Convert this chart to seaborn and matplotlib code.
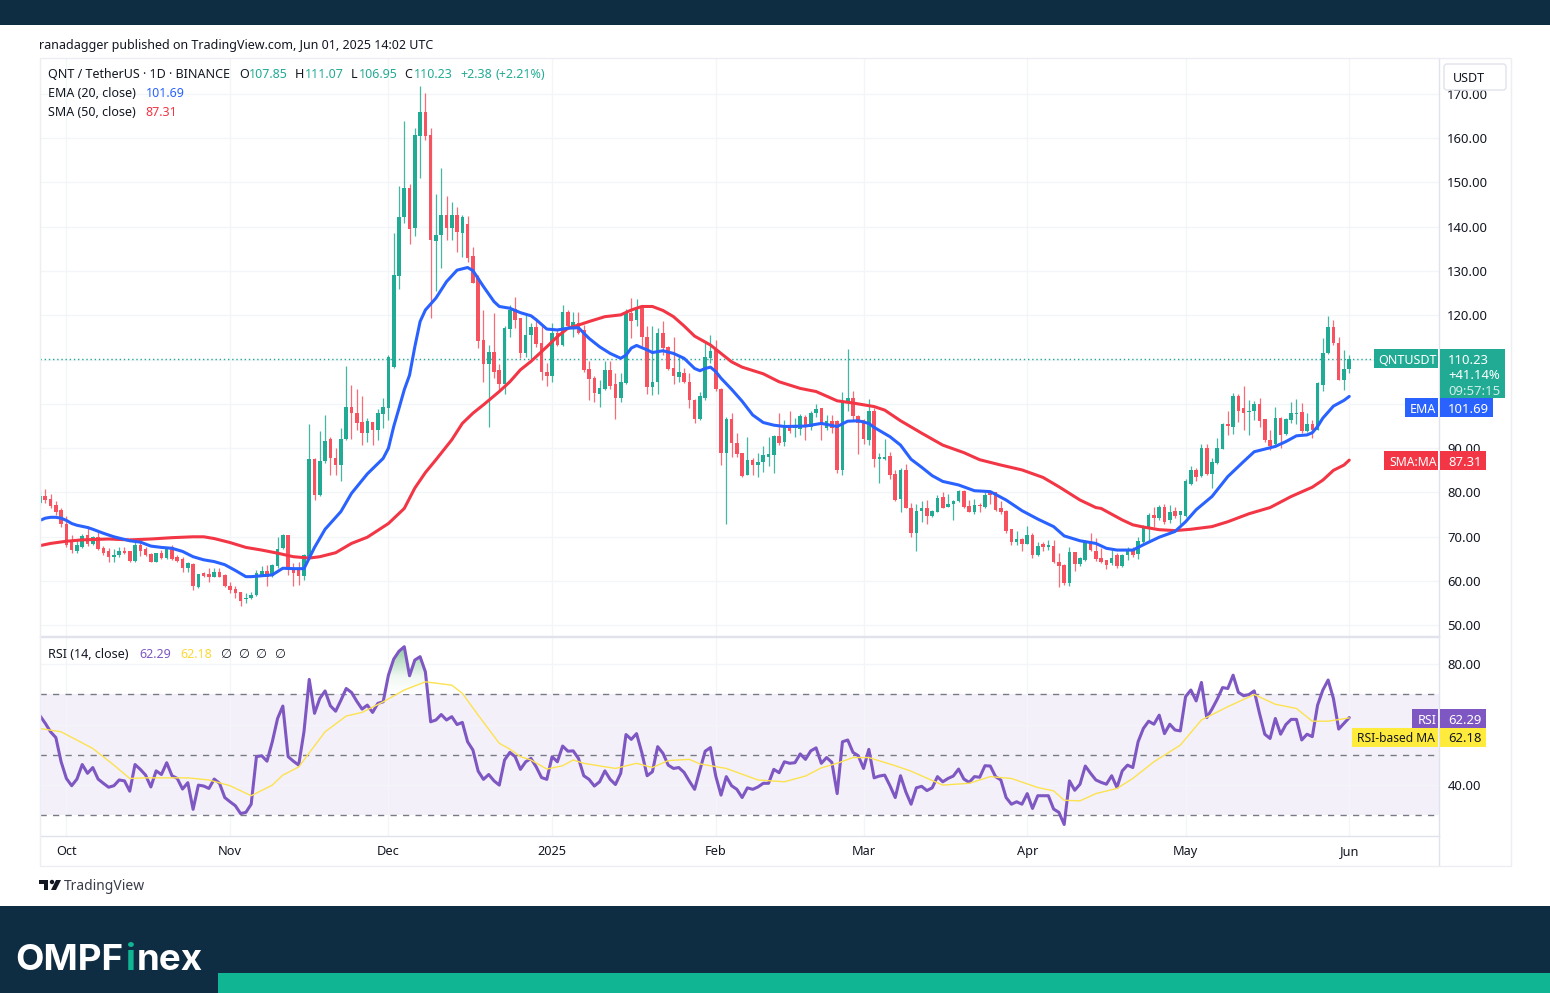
import matplotlib
matplotlib.use("Agg")
import matplotlib.pyplot as plt
from matplotlib.colors import LinearSegmentedColormap
from matplotlib.patches import Circle, FancyBboxPatch, Polygon, Rectangle
from matplotlib.path import Path
import numpy as np
import pandas as pd
import seaborn as sns

# daily candles, first bar is Sep 26 2024
opens = [
    77.7, 79.2, 78.5, 77.2, 76.1, 73.0, 68.9, 66.7, 67.8, 70.4,
    68.4, 69.9, 67.4, 66.7, 65.5, 65.9, 66.7, 66.7, 64.6, 68.2,
    67.2, 66.1, 64.3, 66.4, 65.3, 67.8, 65.4, 65.0, 62.9, 63.9,
    58.6, 61.8, 61.6, 61.0, 62.1, 61.4, 58.9, 58.2, 57.5, 56.0,
    56.1, 56.9, 61.2, 62.2, 61.1, 63.4, 67.4, 70.3, 62.9, 62.5,
    61.2, 65.5, 87.5, 79.5, 87.0, 92.1, 87.7, 86.2, 92.0, 99.2,
    97.9, 95.9, 93.5, 95.9, 94.1, 97.8, 99.0, 108.3, 128.9, 142.1,
    148.8, 139.7, 160.5, 165.8, 160.7, 136.8, 138.1, 142.7, 139.7, 142.7,
    138.7, 140.6, 133.3, 128.4, 114.4, 109.0, 111.8, 107.7, 104.5, 116.9,
    121.4, 119.3, 111.4, 115.5, 117.3, 113.7, 107.3, 106.2, 116.0, 113.3,
    120.8, 117.5, 118.2, 116.7, 107.8, 105.8, 102.3, 103.3, 107.7, 104.5,
    101.4, 104.8, 120.6, 119.0, 121.6, 115.2, 103.8, 105.0, 116.0, 112.9,
    108.0, 106.0, 107.0, 105.0, 100.9, 96.5, 101.3, 110.3, 112.2, 103.3,
    88.9, 96.5, 91.1, 88.9, 84.0, 87.4, 86.2, 86.8, 88.1, 88.4,
    92.8, 91.3, 95.0, 94.5, 94.3, 97.1, 94.7, 98.0, 99.0, 94.5,
    96.2, 96.2, 85.0, 100.5, 101.4, 97.3, 96.4, 91.9, 98.3, 87.5,
    87.6, 88.3, 84.1, 78.5, 85.1, 76.6, 70.8, 75.9, 76.4, 74.6,
    75.7, 78.9, 76.8, 77.4, 78.0, 80.4, 77.0, 75.7, 77.2, 76.7,
    79.9, 80.0, 76.4, 75.9, 71.7, 68.8, 69.5, 68.4, 70.3, 65.9,
    68.4, 67.6, 68.0, 64.4, 63.7, 59.5, 66.5, 63.9, 64.8, 68.9,
    66.9, 65.2, 64.8, 64.0, 65.9, 63.3, 65.8, 67.2, 66.1, 68.9,
    72.3, 74.9, 74.2, 76.7, 73.7, 75.9, 75.0, 74.7, 81.9, 85.1,
    83.7, 90.0, 84.2, 86.6, 89.9, 95.5, 94.9, 101.8, 99.0, 98.1,
    98.3, 99.9, 96.5, 91.9, 90.9, 96.8, 93.2, 96.4, 97.8, 98.1,
    93.8, 95.5, 94.1, 104.3, 111.4, 117.3, 113.8, 105.4, 107.85,
]
highs = [
    80.6, 80.9, 79.7, 78.0, 76.4, 74.7, 70.4, 69.5, 70.7, 72.5,
    70.2, 71.0, 67.9, 67.4, 67.2, 67.8, 67.8, 66.7, 68.8, 69.3,
    67.8, 66.4, 66.4, 67.0, 67.4, 68.1, 65.9, 65.4, 64.4, 64.0,
    61.7, 62.1, 62.9, 62.9, 62.9, 61.7, 59.7, 58.8, 57.6, 57.3,
    57.6, 62.4, 63.4, 63.6, 63.9, 70.0, 70.6, 70.3, 64.0, 64.4,
    66.1, 95.4, 87.7, 93.8, 97.5, 92.5, 90.0, 94.5, 108.6, 104.3,
    103.3, 101.8, 96.8, 96.0, 98.8, 101.3, 111.1, 138.7, 149.3, 163.9,
    149.6, 162.4, 171.8, 170.1, 162.4, 147.3, 153.2, 147.0, 145.7, 144.4,
    142.7, 142.4, 135.5, 129.0, 121.2, 113.3, 120.5, 109.0, 117.5, 122.3,
    124.1, 119.4, 120.0, 118.2, 119.0, 117.6, 109.2, 118.2, 117.0, 122.3,
    121.2, 120.7, 120.8, 117.8, 109.6, 106.2, 105.4, 109.8, 109.6, 106.9,
    106.9, 121.5, 123.9, 123.6, 122.0, 117.5, 117.5, 117.1, 118.8, 113.0,
    115.2, 111.0, 108.0, 106.9, 101.0, 102.8, 114.1, 115.6, 114.4, 103.5,
    97.1, 97.9, 93.4, 89.0, 92.6, 87.7, 88.9, 90.4, 92.6, 93.0,
    97.9, 96.4, 98.3, 96.8, 97.7, 97.5, 98.3, 100.0, 99.0, 97.5,
    97.5, 96.4, 102.8, 112.3, 102.9, 97.4, 96.5, 101.0, 99.0, 89.0,
    92.0, 89.2, 85.1, 85.5, 86.5, 77.6, 77.4, 78.1, 78.2, 76.1,
    79.5, 80.1, 79.7, 78.2, 80.6, 80.6, 78.3, 78.5, 77.6, 80.2,
    80.2, 80.2, 78.0, 76.0, 71.8, 71.2, 69.7, 72.5, 70.8, 68.9,
    68.9, 69.3, 69.3, 66.3, 63.9, 67.6, 66.6, 65.5, 69.3, 70.8,
    69.7, 67.4, 64.8, 67.0, 66.3, 66.1, 67.6, 67.8, 69.9, 72.7,
    75.3, 76.7, 77.2, 77.4, 77.2, 76.8, 75.9, 83.0, 85.9, 85.6,
    91.0, 91.0, 87.7, 92.2, 95.6, 98.4, 102.4, 102.2, 104.1, 100.9,
    100.7, 101.3, 96.6, 94.1, 99.2, 97.0, 96.8, 100.5, 101.1, 100.2,
    98.0, 96.4, 105.0, 114.8, 119.9, 119.0, 115.0, 112.2, 111.07,
]
lows = [
    77.2, 77.6, 76.4, 74.9, 72.3, 67.8, 66.4, 66.4, 67.4, 67.9,
    68.2, 67.0, 65.9, 64.4, 64.4, 65.4, 66.1, 64.2, 64.4, 65.7,
    65.7, 64.2, 64.2, 64.9, 65.0, 64.7, 64.2, 62.0, 62.1, 58.0,
    58.5, 61.0, 59.9, 60.9, 60.9, 58.7, 57.3, 56.1, 54.3, 55.0,
    55.9, 56.7, 61.1, 58.8, 60.9, 62.9, 67.2, 61.4, 58.8, 59.1,
    60.3, 65.3, 78.2, 79.3, 86.7, 84.0, 84.0, 82.7, 91.9, 92.1,
    94.1, 90.7, 91.5, 90.7, 91.9, 94.5, 96.4, 108.0, 125.9, 140.8,
    136.1, 137.8, 150.9, 159.6, 119.3, 125.6, 130.6, 136.9, 137.0, 134.4,
    133.1, 132.1, 127.2, 112.6, 105.0, 94.9, 105.8, 103.2, 102.3, 115.2,
    117.1, 110.3, 110.7, 110.1, 112.9, 105.4, 104.1, 105.0, 113.0, 113.0,
    117.1, 115.2, 115.8, 107.1, 100.9, 100.5, 99.2, 103.2, 103.3, 96.5,
    100.5, 104.5, 114.8, 117.6, 113.0, 102.3, 102.0, 102.3, 111.0, 107.6,
    104.5, 105.0, 104.8, 99.0, 95.6, 96.4, 100.9, 109.2, 103.0, 86.2,
    72.9, 88.0, 88.1, 83.6, 84.0, 84.0, 83.6, 84.7, 85.9, 84.5,
    90.7, 90.5, 93.5, 92.6, 93.0, 91.9, 94.1, 97.0, 91.9, 94.1,
    93.4, 84.4, 84.0, 98.3, 96.4, 88.7, 91.0, 90.7, 85.7, 82.2,
    87.4, 83.0, 78.0, 75.7, 76.4, 70.0, 66.7, 73.4, 72.8, 74.4,
    75.5, 76.4, 76.8, 73.8, 77.8, 76.6, 75.5, 75.2, 75.7, 76.4,
    77.4, 75.8, 75.2, 70.8, 68.2, 68.2, 66.7, 68.4, 65.2, 65.7,
    66.9, 67.0, 64.0, 58.6, 59.1, 58.8, 62.2, 63.3, 64.6, 66.7,
    64.6, 64.0, 62.7, 63.7, 63.0, 63.1, 64.8, 65.5, 64.9, 68.7,
    68.9, 72.3, 73.8, 72.9, 73.1, 74.2, 72.9, 74.5, 81.7, 82.5,
    83.6, 84.0, 81.0, 86.5, 89.8, 93.0, 93.2, 96.0, 94.1, 92.9,
    96.4, 94.9, 91.5, 89.6, 90.7, 90.0, 93.0, 95.6, 95.5, 93.4,
    93.6, 92.3, 94.0, 103.0, 111.3, 113.3, 105.4, 103.2, 106.95,
]
closes = [
    79.1, 78.2, 77.0, 75.7, 72.9, 68.2, 67.0, 68.2, 70.2, 68.4,
    69.9, 67.2, 66.3, 65.5, 65.9, 66.7, 66.3, 64.6, 68.2, 66.9,
    65.9, 64.2, 66.3, 65.3, 67.2, 64.9, 64.6, 62.9, 64.0, 58.8,
    61.6, 61.2, 60.9, 62.1, 61.0, 58.8, 58.0, 57.3, 55.4, 56.2,
    56.9, 61.8, 62.2, 61.0, 63.6, 67.2, 70.3, 62.5, 61.8, 61.2,
    65.9, 87.5, 79.5, 87.2, 91.7, 87.7, 86.2, 92.0, 99.4, 98.0,
    95.8, 93.5, 96.2, 94.0, 97.9, 99.2, 110.5, 129.1, 142.1, 148.8,
    139.5, 160.7, 165.8, 160.5, 137.0, 138.1, 142.7, 139.7, 142.7, 138.8,
    142.3, 132.9, 127.4, 114.3, 109.0, 111.8, 107.1, 104.5, 117.1, 121.2,
    119.0, 111.4, 115.6, 117.3, 113.5, 107.1, 106.2, 116.0, 113.3, 120.7,
    117.5, 118.6, 116.0, 107.7, 105.6, 102.4, 103.5, 107.7, 104.1, 101.4,
    104.9, 120.8, 118.8, 121.6, 115.2, 103.8, 105.0, 116.0, 112.6, 107.8,
    106.2, 107.1, 105.0, 100.9, 96.5, 101.7, 110.5, 112.0, 103.3, 89.0,
    96.5, 91.1, 88.7, 83.7, 87.4, 86.2, 86.8, 88.5, 88.7, 92.8,
    91.1, 95.3, 93.8, 95.0, 97.3, 95.0, 98.0, 98.8, 95.3, 96.2,
    94.5, 85.0, 100.7, 101.3, 97.3, 95.8, 92.0, 98.3, 87.5, 88.1,
    88.1, 84.0, 78.3, 85.1, 76.4, 70.8, 75.9, 76.4, 74.8, 75.9,
    78.7, 76.6, 77.4, 78.1, 80.4, 76.8, 75.7, 77.2, 77.0, 79.5,
    79.5, 76.1, 75.7, 71.2, 68.9, 69.5, 68.4, 70.3, 65.9, 68.0,
    67.6, 68.2, 64.2, 63.4, 59.5, 66.5, 63.9, 65.2, 68.9, 67.0,
    64.9, 64.4, 63.7, 65.2, 63.3, 65.8, 67.0, 65.9, 69.1, 72.5,
    74.9, 74.2, 76.7, 73.4, 75.7, 74.6, 75.9, 82.5, 85.1, 83.6,
    90.0, 84.2, 86.8, 90.0, 95.5, 95.0, 101.8, 98.5, 98.0, 98.4,
    99.9, 96.2, 91.9, 90.6, 96.8, 93.0, 96.5, 97.9, 98.0, 93.8,
    95.5, 94.0, 104.7, 111.4, 117.3, 113.7, 105.4, 107.8, 110.23,
]
rsi_vals = [
    62.9, 60.4, 57.6, 55.7, 47.7, 42.2, 39.8, 42.0, 46.8, 43.9,
    45.8, 42.0, 40.6, 39.3, 39.8, 41.7, 41.4, 38.0, 46.8, 45.2,
    43.3, 39.4, 44.7, 43.5, 47.4, 43.1, 42.2, 38.7, 40.8, 32.0,
    40.0, 39.7, 38.9, 42.0, 40.6, 35.9, 34.5, 33.2, 30.6, 31.0,
    33.7, 49.4, 49.7, 47.9, 54.3, 62.0, 66.1, 49.4, 47.9, 46.6,
    57.6, 74.9, 63.7, 68.6, 71.1, 66.2, 64.4, 68.0, 71.9, 70.6,
    67.7, 65.1, 66.4, 64.0, 67.0, 67.5, 76.3, 81.6, 84.2, 85.7,
    76.1, 81.3, 82.4, 77.4, 60.9, 61.5, 63.3, 61.5, 62.6, 60.0,
    60.7, 54.3, 51.6, 44.6, 41.9, 43.5, 41.4, 40.0, 48.3, 50.8,
    49.4, 45.2, 47.7, 48.8, 46.0, 42.5, 41.9, 49.4, 47.7, 52.9,
    51.2, 51.3, 48.8, 43.1, 41.9, 39.7, 41.1, 44.7, 41.9, 40.2,
    43.9, 56.7, 55.1, 57.0, 50.7, 43.1, 44.4, 52.7, 50.5, 46.6,
    45.5, 45.8, 44.2, 41.3, 38.6, 45.0, 51.2, 52.4, 43.0, 36.7,
    42.8, 39.8, 38.6, 35.9, 39.1, 38.6, 39.4, 40.6, 40.6, 45.2,
    44.1, 47.7, 47.2, 47.4, 50.3, 48.5, 51.3, 52.3, 47.2, 49.1,
    47.5, 37.2, 54.3, 54.9, 50.8, 49.7, 45.5, 51.8, 42.4, 43.0,
    43.3, 39.8, 35.9, 43.1, 37.8, 33.7, 39.1, 39.6, 38.2, 39.1,
    42.8, 41.1, 42.2, 43.0, 45.3, 42.0, 40.9, 42.8, 42.6, 46.4,
    46.3, 42.8, 41.7, 35.9, 33.7, 34.5, 33.7, 37.2, 32.3, 36.5,
    36.5, 36.5, 32.1, 31.0, 27.0, 41.4, 38.3, 40.3, 46.3, 43.9,
    41.7, 40.9, 40.3, 43.1, 39.2, 44.7, 46.6, 45.8, 54.3, 58.7,
    61.1, 60.1, 63.1, 57.0, 60.1, 58.2, 57.9, 69.2, 71.4, 67.8,
    73.9, 62.3, 65.1, 68.4, 72.2, 71.9, 76.3, 70.6, 69.5, 69.9,
    71.1, 63.7, 56.8, 55.4, 62.0, 56.8, 60.0, 61.7, 61.7, 54.9,
    56.8, 56.0, 66.4, 71.4, 74.7, 68.6, 58.5, 60.4, 62.29,
]

# the smooth lines at these bars
ema_days = [
    0, 1, 2, 3, 4, 5, 6, 7, 9, 10, 12, 14, 17, 19, 21, 23, 25, 27, 29, 31,
    33, 35, 37, 39, 40, 42, 44, 46, 48, 50, 51, 52, 54, 57, 59, 62, 65, 66, 67, 68,
    69, 70, 71, 72, 73, 75, 77, 79, 81, 82, 84, 86, 87, 89, 91, 93, 94, 96, 98, 100,
    102, 104, 106, 108, 110, 111, 112, 113, 115, 116, 118, 120, 122, 124, 125, 126, 127, 128, 129, 131,
    133, 135, 137, 139, 141, 145, 148, 151, 153, 155, 157, 158, 161, 163, 165, 167, 169, 171, 174, 177,
    180, 183, 186, 189, 192, 194, 197, 200, 202, 204, 207, 209, 212, 215, 217, 219, 222, 225, 228, 230,
    232, 234, 236, 238, 240, 241, 242, 243, 245, 247, 248,
]
ema_vals = [
    73.7, 74.2, 74.4, 74.4, 74.2, 73.7, 73.0, 72.6, 72.1, 71.7, 70.8, 70.0, 69.1, 68.8, 67.9, 67.6, 67.4, 66.7, 65.5, 64.8,
    64.4, 63.7, 62.4, 61.0, 61.0, 61.2, 61.4, 62.9, 62.8, 62.8, 65.2, 67.6, 71.7, 75.7, 79.8, 84.2, 87.7, 90.0, 94.9, 99.0,
    103.2, 106.5, 112.9, 118.6, 121.2, 123.9, 127.6, 130.2, 130.8, 130.1, 126.5, 123.1, 122.0, 121.6, 120.6, 119.9, 119.0, 116.9, 116.7, 117.1,
    117.2, 114.8, 112.9, 111.4, 110.3, 111.0, 112.6, 113.2, 112.2, 111.6, 112.0, 111.4, 110.3, 108.0, 107.5, 108.0, 108.3, 107.3, 105.8, 103.3,
    100.6, 97.5, 95.8, 95.2, 94.9, 95.0, 95.6, 94.9, 96.1, 96.2, 95.6, 94.7, 92.6, 90.7, 87.5, 85.7, 83.8, 82.5, 81.7, 80.4,
    80.2, 78.3, 75.9, 74.0, 72.3, 70.2, 69.1, 68.5, 67.4, 67.0, 67.0, 68.2, 69.9, 71.2, 73.4, 76.1, 79.1, 83.6, 87.0, 89.2,
    89.8, 90.4, 91.5, 92.8, 93.0, 93.5, 94.9, 96.8, 99.5, 100.8, 101.69,
]
sma_days = [
    0, 2, 5, 8, 13, 17, 21, 25, 29, 31, 33, 36, 39, 42, 45, 48, 51, 53, 56, 59,
    62, 66, 69, 71, 73, 75, 78, 80, 82, 84, 87, 89, 91, 93, 96, 98, 100, 102, 104, 107,
    110, 112, 114, 116, 118, 120, 122, 124, 127, 129, 131, 133, 137, 140, 144, 147, 151, 154, 158, 160,
    163, 167, 171, 175, 178, 182, 186, 190, 193, 197, 200, 201, 205, 207, 209, 212, 215, 218, 222, 225,
    229, 233, 237, 241, 243, 245, 247, 248,
]
sma_vals = [
    68.0, 68.5, 69.0, 69.3, 69.5, 69.3, 69.5, 69.8, 70.0, 70.0, 69.6, 68.7, 67.6, 67.0, 66.3, 65.5, 65.2, 65.5, 66.4, 68.5,
    69.9, 73.0, 76.4, 81.0, 84.5, 87.4, 91.9, 95.6, 97.9, 99.8, 102.8, 105.0, 107.7, 109.6, 112.9, 115.2, 117.1, 117.8, 118.6, 119.7,
    120.1, 121.2, 122.0, 122.0, 121.1, 119.7, 117.6, 115.3, 113.3, 111.4, 109.5, 108.3, 106.8, 105.0, 103.5, 102.8, 100.7, 100.2, 99.4, 98.6,
    96.2, 93.4, 90.7, 89.0, 87.4, 86.2, 85.1, 83.4, 81.3, 78.3, 76.6, 76.4, 73.8, 72.7, 72.2, 71.6, 71.4, 71.7, 72.3, 73.4,
    75.2, 76.6, 79.1, 81.2, 82.8, 85.0, 86.2, 87.31,
]
rsi_ma_days = [
    0, 4, 10, 14, 17, 20, 28, 32, 36, 40, 44, 46, 49, 54, 58, 61, 65, 69, 73, 78,
    80, 83, 87, 89, 91, 93, 96, 99, 101, 103, 109, 113, 116, 119, 123, 125, 130, 136, 141, 145,
    148, 151, 154, 157, 162, 165, 171, 176, 180, 184, 189, 192, 194, 197, 200, 204, 207, 211, 216, 220,
    225, 230, 234, 238, 241, 244, 248,
]
rsi_ma_vals = [
    58.7, 57.6, 52.1, 46.6, 42.2, 42.4, 42.4, 41.7, 39.8, 36.5, 40.0, 43.3, 46.0, 57.6, 62.8, 64.0, 67.5, 71.4, 74.1, 73.0,
    70.3, 63.1, 53.8, 51.9, 49.4, 48.3, 45.3, 46.4, 48.3, 47.2, 45.5, 47.2, 45.8, 48.1, 48.5, 47.0, 45.5, 41.7, 41.1, 43.0,
    45.7, 47.2, 49.1, 49.1, 46.4, 44.6, 40.0, 40.6, 42.8, 42.2, 39.2, 38.1, 35.0, 34.8, 37.2, 38.9, 42.2, 47.7, 53.2, 61.5,
    65.9, 69.9, 66.7, 65.3, 61.1, 61.1, 62.18,
]

month_days = [5, 36, 66, 97, 128, 156, 187, 217, 248]
month_labels = ["Oct", "Nov", "Dec", "2025", "Feb", "Mar", "Apr", "May", "Jun"]
price_ticks = [50, 60, 70, 80, 90, 100, 110, 120, 130, 140, 150, 160, 170]
rsi_ticks = [40, 60, 80]
rsi_levels = [30, 50, 70]
# these ticks sit behind the price tags in the original
price_hidden = [100, 110]
rsi_hidden = [60]

GREEN = "#22ab94"
RED = "#f7525f"
BLUE = "#2962ff"
SMA_RED = "#f23645"
PURPLE = "#7e57c2"
YELLOW = "#ffeb3b"
NAVY = "#0e2c42"
TEAL = "#10b593"
INK = "#131722"
GRID = "#f3f5f9"
EDGE = "#e0e3eb"
FRAME = "#eceef3"
TICK_SIZE = 9.4

sns.set_theme(style="white")
plt.rcParams["font.family"] = ["Noto Sans", "DejaVu Sans"]
plt.rcParams["font.size"] = 9

W, H = 1550, 993
fig = plt.figure(figsize=(W / 100, H / 100), dpi=100, facecolor="white")


def pane(x0, y0, x1, y1):
    return fig.add_axes([x0 / W, 1 - y1 / H, (x1 - x0) / W, (y1 - y0) / H])


def tick_text(ticks, hidden):
    return ["" if t in hidden else f"{t:.2f}" for t in ticks]


ax_price = pane(40, 58, 1439, 636)
ax_rsi = pane(40, 637, 1439, 836)
days = np.arange(len(closes))

# candles
up = np.array(closes) >= np.array(opens)
colors = np.where(up, GREEN, RED)
ax_price.vlines(days, lows, highs, colors=colors, linewidth=0.9, alpha=0.85, zorder=2)
ax_price.bar(days, np.abs(np.array(closes) - np.array(opens)), bottom=np.minimum(opens, closes),
             width=0.68, color=colors, linewidth=0, zorder=3)

ema_df = pd.DataFrame({"day": ema_days, "value": ema_vals})
sma_df = pd.DataFrame({"day": sma_days, "value": sma_vals})
sns.lineplot(data=sma_df, x="day", y="value", ax=ax_price, color=SMA_RED, linewidth=2.2,
             estimator=None, sort=False, legend=False, zorder=4, solid_joinstyle="round")
sns.lineplot(data=ema_df, x="day", y="value", ax=ax_price, color=BLUE, linewidth=2.2,
             estimator=None, sort=False, legend=False, zorder=5, solid_joinstyle="round")
ax_price.axhline(closes[-1], color=GREEN, linewidth=1, linestyle=(0, (1, 2)), zorder=1)

ax_price.set_ylim(47.6, 178.1)
ax_price.set_yticks(price_ticks)
ax_price.set_yticklabels(tick_text(price_ticks, price_hidden))

# rsi pane
ax_rsi.axhspan(min(rsi_levels), max(rsi_levels), color=PURPLE, alpha=0.085, linewidth=0, zorder=0)
for level in rsi_levels:
    ax_rsi.axhline(level, color="#787b86", linewidth=1, linestyle=(0, (4.5, 4.5)), zorder=1)

rsi_arr = np.array(rsi_vals)
overbought = ax_rsi.fill_between(days, 70, rsi_arr, where=rsi_arr > 70, interpolate=True,
                                 facecolor="none", linewidth=0)
fade = LinearSegmentedColormap.from_list(
    "fade", [(0, "#ffffff"), (0.35, "#f1f8f3"), (1, "#8cc9a0")])
gradient = ax_rsi.imshow(np.linspace(1, 0, 64).reshape(-1, 1), cmap=fade, aspect="auto",
                         extent=(0, 265, 70, 86), zorder=1.5)
gradient.set_clip_path(Path.make_compound_path(*overbought.get_paths()), transform=ax_rsi.transData)

rsi_df = pd.DataFrame({"day": days, "value": rsi_vals})
rsi_ma_df = pd.DataFrame({"day": rsi_ma_days, "value": rsi_ma_vals})
sns.lineplot(data=rsi_df, x="day", y="value", ax=ax_rsi, color=PURPLE, linewidth=2.2,
             estimator=None, sort=False, legend=False, zorder=3, solid_joinstyle="round")
sns.lineplot(data=rsi_ma_df, x="day", y="value", ax=ax_rsi, color="#fde24f", linewidth=1,
             estimator=None, sort=False, legend=False, zorder=4)
ax_rsi.set_ylim(23.2, 88.9)
ax_rsi.set_yticks(rsi_ticks)
ax_rsi.set_yticklabels(tick_text(rsi_ticks, rsi_hidden))

for ax in (ax_price, ax_rsi):
    ax.set_xlim(0, 265)
    ax.set_xticks(month_days)
    ax.set_xlabel("")
    ax.set_ylabel("")
    ax.yaxis.tick_right()
    ax.grid(True, color=GRID, linewidth=1)
    ax.set_axisbelow(True)
    ax.tick_params(axis="both", length=0, labelsize=TICK_SIZE, colors=INK)
    ax.tick_params(axis="y", pad=6)
    for spine in ax.spines.values():
        spine.set_color(EDGE)
        spine.set_linewidth(1)
    ax.spines["left"].set_visible(False)

ax_price.set_xticklabels([])
ax_price.spines["top"].set_visible(False)
ax_rsi.set_xticklabels(month_labels)
ax_rsi.tick_params(axis="x", pad=6.5, labelsize=9.2)
ax_rsi.get_xticklabels()[3].set_fontweight("bold")

# everything outside the panes, in pixel coordinates
over = fig.add_axes([0, 0, 1, 1], zorder=10)
over.set_xlim(0, W)
over.set_ylim(H, 0)
over.axis("off")


def box(x0, y0, x1, y1, color, **kw):
    over.add_patch(Rectangle((x0, y0), x1 - x0, y1 - y0, facecolor=color, linewidth=0, **kw))


def label(x, y, s, color=INK, size=9, ha="left", **kw):
    over.text(x, y, s, color=color, fontsize=size, ha=ha, va="center_baseline", **kw)


box(0, 0, W, 25, NAVY)
box(0, 906, W, H, NAVY)
box(218, 973, W, H, TEAL)
over.add_patch(Rectangle((39.5, 57.5), 1471, 808, fill=False, edgecolor=FRAME, linewidth=1))
over.plot([1439, 1439], [836, 865], color=EDGE, linewidth=1)

label(39, 44, "ranadagger published on TradingView.com, Jun 01, 2025 14:02 UTC", size=9)

label(48, 73.5, "QNT / TetherUS · 1D · BINANCE", size=9)
for x, s in [(239, "O"), (295, "H"), (351, "L"), (404, "C")]:
    label(x, 73.5, s, size=9)
for x, s in [(249, "107.85"), (304.5, "111.07"), (358.5, "106.95"), (413.5, "110.23"),
             (460, "+2.38"), (496, "(+2.21%)")]:
    label(x, 73.5, s, color=GREEN, size=9)
label(48, 92, "EMA (20, close)", size=9)
label(146, 92, "101.69", color=BLUE, size=9)
label(48, 110.5, "SMA (50, close)", size=9)
label(145, 110.5, "87.31", color=SMA_RED, size=9)

label(48, 653.5, "RSI (14, close)", size=9)
label(139, 653.5, "62.29", color=PURPLE, size=9)
label(180, 653.5, "62.18", color="#fdd835", size=9)
for x in [220, 238, 255, 274]:
    label(x, 653.5, "∅", size=9, family=["DejaVu Sans"])

# scale box
over.add_patch(FancyBboxPatch((1444, 64), 62, 26, boxstyle="round,pad=0,rounding_size=3",
                              facecolor="white", edgecolor=EDGE, linewidth=1))
label(1453, 76.5, "USDT", size=9)

# price tags
box(1374, 349, 1438, 368, GREEN)
label(1378, 358.5, "QNTUSDT", color="white", size=9)
box(1440, 349, 1505, 398, GREEN)
label(1448, 359, "110.23", color="white", size=TICK_SIZE)
label(1448, 374, "+41.14%", color="white", size=TICK_SIZE)
label(1448, 390, "09:57:15", color="#d0eee8", size=TICK_SIZE)

box(1405, 398, 1438, 417, BLUE)
label(1410, 408, "EMA", color="white", size=9)
box(1440, 398, 1493, 417, BLUE)
label(1448, 408, "101.69", color="white", size=TICK_SIZE)

box(1384, 451, 1438, 470, SMA_RED)
label(1389, 460.5, "SMA:MA", color="white", size=8.8)
box(1440, 451, 1486, 470, SMA_RED)
label(1448, 460.5, "87.31", color="white", size=TICK_SIZE)

box(1412, 709, 1438, 728, PURPLE)
label(1418, 718.5, "RSI", color="white", size=9)
box(1440, 709, 1486, 728, PURPLE)
label(1448, 718.5, "62.29", color="white", size=TICK_SIZE)

box(1352, 728, 1438, 747, YELLOW)
label(1357, 737.5, "RSI-based MA", size=8.7)
box(1440, 728, 1486, 747, YELLOW)
label(1448, 737.5, "62.18", size=TICK_SIZE)

# tradingview mark
over.add_patch(Polygon([(39, 880), (48, 880), (48, 890), (44, 890), (44, 884), (39, 884)], color="#131722", linewidth=0))
over.add_patch(Circle((52, 882), 2.2, color="#131722", linewidth=0))
over.add_patch(Polygon([(56, 880), (61, 880), (56, 890), (51, 890)], color="#131722", linewidth=0))
label(64, 885, "TradingView", color="#3a3e4a", size=10)

# footer wordmark
label(15, 957, "OMPF", color="white", size=26.5, family=["Inter", "DejaVu Sans"], fontweight="bold")
label(126, 957, "i", color=TEAL, size=26.5, family=["Inter", "DejaVu Sans"], fontweight="bold")
label(137, 957, "nex", color="white", size=26.5, family=["Inter", "DejaVu Sans"], fontweight="bold")

fig.savefig("out.png", dpi=100)
